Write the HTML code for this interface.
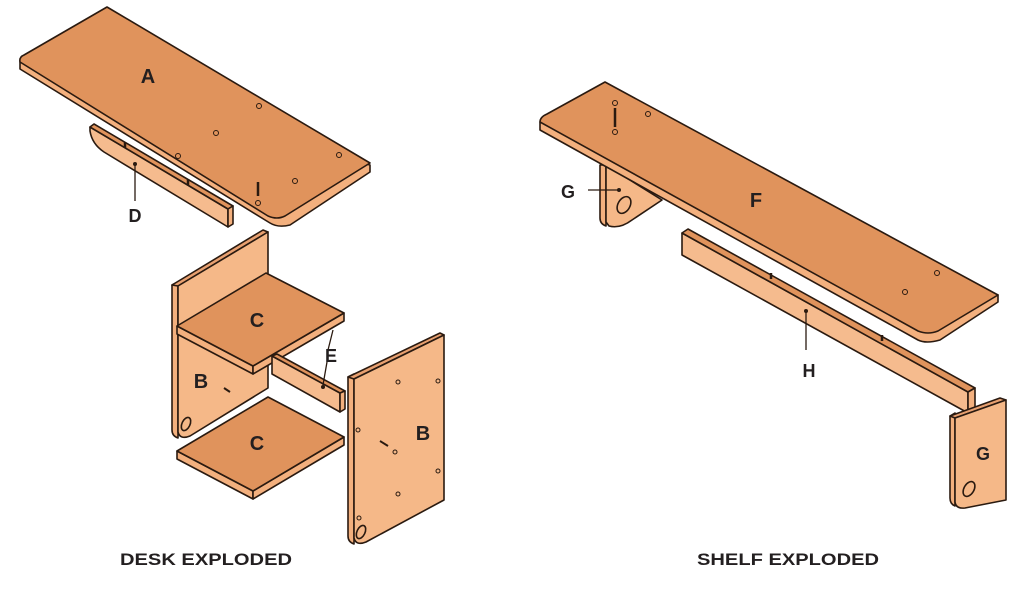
<!DOCTYPE html>
<html><head><meta charset="utf-8"><style>
html,body{margin:0;padding:0;background:#fff;}
svg{display:block;}
text{font-family:"Liberation Sans",sans-serif;font-weight:bold;fill:#231f20;}
</style></head><body>
<svg width="1024" height="593" viewBox="0 0 1024 593" xmlns="http://www.w3.org/2000/svg">
<g stroke="#2a1a10" stroke-width="1.6" stroke-linejoin="round">
<!-- Desk top A -->
<path d="M20,62 L20,69 L270,223 Q278,228 290,225 L370,172 L370,165 Z" fill="#f3b07e"/>
<path d="M20,62 Q19,57 24,55 L107,7 L370,163 L285,216 Q277,220 268,216 Z" fill="#e0935c"/>
<!-- D rail -->
<path d="M90,127 L228,209 L228,227 L104,152 Q92,144 90,131 Z" fill="#f5bb8e"/>
<path d="M90,127 L94,124 L233,206 L228,209 Z" fill="#e0935c"/>
<path d="M228,209 L233,206 L233,224 L228,227 Z" fill="#f3b07e"/>
<!-- B left -->
<path d="M172,285 L178,282 L178,438 Q172,436 172,430 Z" fill="#f3b07e"/>
<path d="M172,285 L263,230 L268,232 L178,286 Z" fill="#e8a070"/>
<path d="M178,286 L268,232 L268,388 L190,436 Q180,440 178,432 Z" fill="#f5b888"/>
<ellipse cx="186" cy="424" rx="4" ry="7" transform="rotate(25 186 424)" fill="#f5b888"/>
<!-- C top -->
<path d="M177,326 L253,366 L253,374 L177,334 Z" fill="#f3b07e"/>
<path d="M253,366 L344,313 L344,321 L253,374 Z" fill="#f3b07e"/>
<path d="M177,326 L266,273 L344,313 L253,366 Z" fill="#e0935c"/>
<!-- E rail -->
<path d="M272,356 L340,393 L340,412 L272,374 Z" fill="#f5bb8e"/>
<path d="M272,356 L277,354 L345,391 L340,393 Z" fill="#e0935c"/>
<path d="M340,393 L345,391 L345,409 L340,412 Z" fill="#f3b07e"/>
<!-- C bottom -->
<path d="M177,451 L253,491 L253,499 L177,459 Z" fill="#f3b07e"/>
<path d="M253,491 L344,437 L344,445 L253,499 Z" fill="#f3b07e"/>
<path d="M177,451 L268,397 L344,437 L253,491 Z" fill="#e0935c"/>
<!-- B right -->
<path d="M348,377 L354,374 L354,544 Q348,542 348,536 Z" fill="#f3b07e"/>
<path d="M348,377 L440,333 L444,335 L354,379 Z" fill="#e8a070"/>
<path d="M354,379 L444,335 L444,500 L366,542 Q356,546 354,538 Z" fill="#f5b888"/>
<ellipse cx="361" cy="532" rx="4" ry="7" transform="rotate(25 361 532)" fill="#f5b888"/>
<!-- G left bracket (behind shelf) -->
<path d="M600,165 L606,165 L606,226 Q600,224 600,218 Z" fill="#f3b07e"/>
<path d="M606,165 L662,200 L632,220 Q620,229 609,226 L606,222 Z" fill="#f5b888"/>
<ellipse cx="624" cy="205" rx="6" ry="9" transform="rotate(30 624 205)" fill="#f5b888"/>
<!-- Shelf F -->
<path d="M540,122 L540,130 L918,340 Q926,344 940,340 L998,302 L998,295 Z" fill="#f3b07e"/>
<path d="M540,122 Q540,117 547,114 L605,82 L998,295 L938,331 Q928,335 918,331 Z" fill="#e0935c"/>
<!-- H rail -->
<path d="M682,233 L968,392 L968,413 L682,255 Z" fill="#f5bb8e"/>
<path d="M682,233 L688,229 L975,388 L968,392 Z" fill="#e0935c"/>
<path d="M968,392 L975,388 L975,409 L968,413 Z" fill="#f3b07e"/>
<!-- G right -->
<path d="M950,416 L955,413 L955,506 Q950,504 950,498 Z" fill="#f3b07e"/>
<path d="M950,416 L1000,398 L1006,400 L955,418 Z" fill="#e8a070"/>
<path d="M955,418 L1006,400 L1006,500 L965,508 Q956,509 955,502 Z" fill="#f5b888"/>
<ellipse cx="969" cy="489" rx="5" ry="8" transform="rotate(30 969 489)" fill="#f5b888"/>
</g>
<!-- holes -->
<g fill="none" stroke="#2a1a10" stroke-width="1">
<circle cx="259" cy="106" r="2.5"/><circle cx="216" cy="133" r="2.5"/><circle cx="178" cy="156" r="2.5"/>
<circle cx="339" cy="155" r="2.5"/><circle cx="295" cy="181" r="2.5"/><circle cx="258" cy="203" r="2.5"/>
<circle cx="648" cy="114" r="2.5"/><circle cx="615" cy="132" r="2.5"/><circle cx="615" cy="103" r="2.5"/>
<circle cx="937" cy="273" r="2.5"/><circle cx="905" cy="292" r="2.5"/>
<circle cx="398" cy="382" r="2"/><circle cx="438" cy="381" r="2"/><circle cx="358" cy="430" r="2"/>
<circle cx="438" cy="471" r="2"/><circle cx="398" cy="494" r="2"/><circle cx="359" cy="518" r="2"/>
<circle cx="395" cy="452" r="2"/>
</g>
<g stroke="#2a1a10" stroke-width="1.3">
<line x1="258" y1="182" x2="258" y2="196" stroke-width="2.5"/>
<line x1="615" y1="108" x2="615" y2="127" stroke-width="2.5"/>
<line x1="135" y1="165" x2="135" y2="201"/>
<line x1="806" y1="312" x2="806" y2="350"/>
<line x1="588" y1="190" x2="618" y2="190"/>
<line x1="333" y1="330" x2="328" y2="350"/><line x1="327" y1="362" x2="323" y2="385"/>
<line x1="224" y1="388" x2="230" y2="392" stroke-width="2"/>
<line x1="380" y1="441" x2="388" y2="446" stroke-width="2"/>
<line x1="125" y1="142" x2="125" y2="148" stroke-width="2.5"/>
<line x1="188" y1="179" x2="188" y2="185" stroke-width="2.5"/>
<line x1="771" y1="273" x2="771" y2="279" stroke-width="2.5"/>
<line x1="882" y1="335" x2="882" y2="341" stroke-width="2.5"/>
</g>
<g fill="#2a1a10"><circle cx="135" cy="164" r="2"/><circle cx="806" cy="311" r="2"/><circle cx="619" cy="190" r="2"/><circle cx="323" cy="387" r="2"/></g>
<text x="148" y="83" font-size="20" text-anchor="middle">A</text>
<text x="135" y="222" font-size="18" text-anchor="middle">D</text>
<text x="257" y="327" font-size="20" text-anchor="middle">C</text>
<text x="331" y="362" font-size="18" text-anchor="middle">E</text>
<text x="201" y="388" font-size="20" text-anchor="middle">B</text>
<text x="257" y="450" font-size="20" text-anchor="middle">C</text>
<text x="423" y="440" font-size="20" text-anchor="middle">B</text>
<text x="568" y="198" font-size="18" text-anchor="middle">G</text>
<text x="756" y="207" font-size="20" text-anchor="middle">F</text>
<text x="809" y="377" font-size="18" text-anchor="middle">H</text>
<text x="983" y="460" font-size="18" text-anchor="middle">G</text>
<text x="120" y="565" font-size="17" textLength="172" lengthAdjust="spacingAndGlyphs">DESK EXPLODED</text>
<text x="697" y="565" font-size="17" textLength="182" lengthAdjust="spacingAndGlyphs">SHELF EXPLODED</text>
</svg>
</body></html>
